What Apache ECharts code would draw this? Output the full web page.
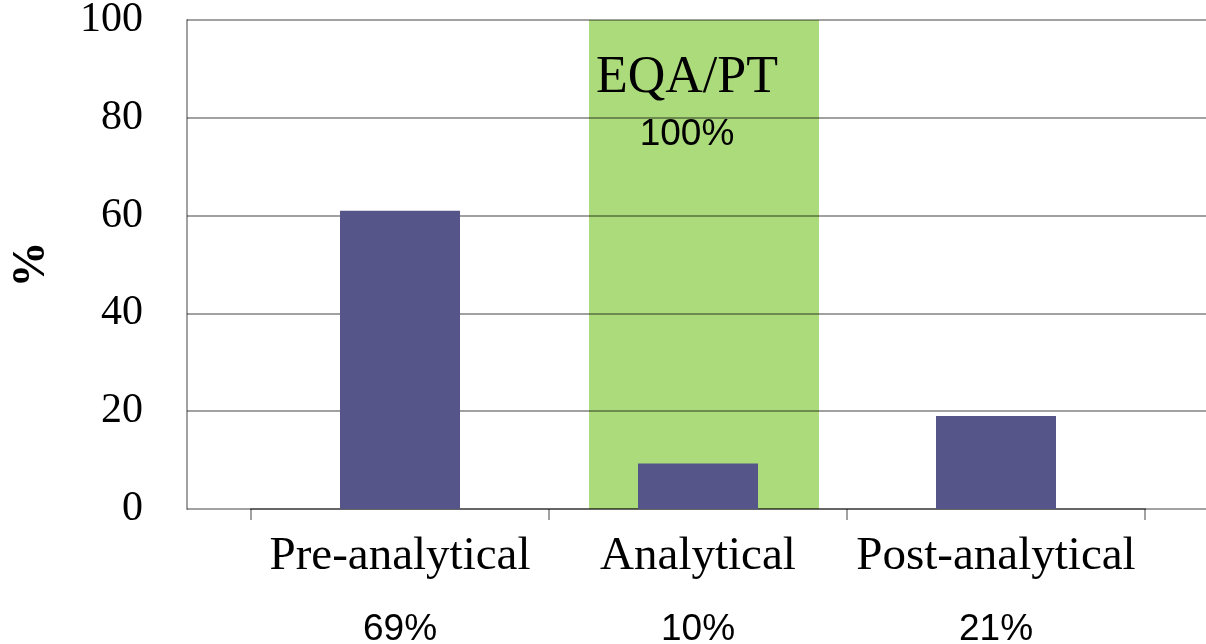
<!DOCTYPE html>
<html>
<head>
<meta charset="utf-8">
<script src="https://cdn.jsdelivr.net/npm/echarts@6/dist/echarts.min.js"></script>
<style>
  html, body { margin: 0; padding: 0; background: #fff; }
  #main { width: 1206px; height: 644px; }
</style>
</head>
<body>
<div id="main"></div>
<script>
// phases of the testing process
var categories = ['Pre-analytical', 'Analytical', 'Post-analytical'];
var errorShare = ['69%', '10%', '21%'];
var barValues = [61, 9.3, 19];
var eqaValues = [null, 100, null];
var yTicks = [0, 20, 40, 60, 80, 100];

var chartDom = document.getElementById('main');
var myChart = echarts.init(chartDom);
var option;

var serif = 'Liberation Serif';
var narrow = 'Liberation Sans Narrow, Liberation Sans';
var gray = 'rgba(0,0,0,0.37)';

option = {
  animation: false,
  grid: [
    { left: 187, right: 0, top: 20, bottom: 135, outerBoundsMode: 'none' },
    { left: 251, right: 61, top: 20, bottom: 135, outerBoundsMode: 'none' },
    { left: 257, right: 55, top: 20, bottom: 135, outerBoundsMode: 'none' }
  ],
  xAxis: [
    { gridIndex: 0, type: 'value', show: false },
    {
      gridIndex: 1,
      type: 'category',
      data: categories,
      z: 3,
      axisLine: { lineStyle: { color: gray, width: 2 } },
      axisTick: { show: true, length: 11, lineStyle: { color: gray, width: 2 } },
      axisLabel: {
        margin: 12,
        interval: 0,
        formatter: function (v, i) {
          return '{a|' + v + '}\n{b|' + errorShare[i] + '}';
        },
        rich: {
          a: { fontFamily: serif, fontSize: 47, color: '#000', lineHeight: 72 },
          b: { fontFamily: narrow, fontSize: 37, color: '#000', lineHeight: 74 }
        }
      }
    },
    { gridIndex: 2, type: 'category', data: categories, show: false }
  ],
  yAxis: [
    {
      gridIndex: 0,
      type: 'value',
      min: 0,
      max: 100,
      interval: 20,
      z: 3,
      name: '%',
      nameLocation: 'middle',
      nameRotate: 90,
      nameGap: 132,
      nameTextStyle: { fontFamily: serif, fontSize: 46, fontWeight: 'bold', color: '#000' },
      axisLine: { show: true, lineStyle: { color: gray, width: 2 } },
      axisTick: { show: false },
      axisLabel: {
        margin: 44,
        fontFamily: serif,
        fontSize: 42,
        color: '#000',
        formatter: function (v) { return yTicks.indexOf(v) >= 0 ? String(v) : ''; }
      },
      splitLine: { lineStyle: { color: gray, width: 2 } }
    },
    { gridIndex: 1, type: 'value', min: 0, max: 100, show: false },
    { gridIndex: 2, type: 'value', min: 0, max: 100, show: false }
  ],
  series: [
    {
      name: 'EQA/PT',
      type: 'bar',
      xAxisIndex: 2,
      yAxisIndex: 2,
      data: eqaValues,
      barWidth: 230,
      z: 2,
      itemStyle: { color: '#acdb7b' },
      label: {
        show: true,
        position: 'insideTop',
        distance: 28,
        offset: [-17, 0],
        formatter: function () { return '{a|EQA/PT}\n{b|100%}'; },
        rich: {
          a: { fontFamily: serif, fontSize: 52, color: '#000', lineHeight: 60 },
          b: { fontFamily: narrow, fontSize: 37, color: '#000', lineHeight: 54 }
        }
      }
    },
    {
      name: 'errors',
      type: 'bar',
      xAxisIndex: 1,
      yAxisIndex: 1,
      data: barValues,
      barWidth: 120,
      z: 5,
      itemStyle: { color: '#55558a' }
    }
  ]
};

option && myChart.setOption(option);
</script>
</body>
</html>
